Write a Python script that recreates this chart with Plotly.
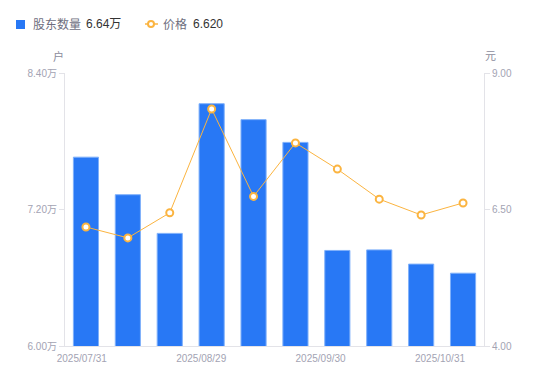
import plotly.graph_objects as go

# ---- data ----
bar_index = list(range(10))
holders_wan = [7.66, 7.33, 6.99, 8.13, 7.99, 7.79, 6.84, 6.845, 6.72, 6.64]
price = [6.18, 5.98, 6.44, 8.34, 6.74, 7.72, 7.24, 6.69, 6.40, 6.62]
x_tick_labels = ["2025/07/31", "2025/08/29", "2025/09/30", "2025/10/31"]
x_tick_pos = [-0.1, 2.75, 5.6, 8.45]
left_ticks = [6.00, 7.20, 8.40]
right_ticks = [4.00, 6.50, 9.00]

# page has an 8px body margin; layout below is in page pixels
OFF = 8
W, H = 550 - OFF, 381 - OFF
L, R, T, B = 65 - OFF, 66, 73 - OFF, 35
pw, ph = W - L - R, H - T - B

def px(x):
    return (x - OFF - L) / pw

def py(y):
    return (H - B - (y - OFF)) / ph

FONT = "Liberation Sans, Noto Sans CJK SC, sans-serif"
BLUE = "#2878F5"
ORANGE = "#FBB440"
TICK_GRAY = "#a3a3b3"
AXIS_GRAY = "#e3e3e8"

fig = go.Figure()
fig.add_trace(go.Bar(
    x=bar_index, y=holders_wan, width=0.6,
    marker=dict(color=BLUE, line=dict(color="#7fb0fa", width=1)),
    name="股东数量", yaxis="y", showlegend=False,
))
fig.add_trace(go.Scatter(
    x=bar_index, y=price, mode="lines+markers",
    line=dict(color=ORANGE, width=1),
    marker=dict(symbol="circle", size=7, color="white", line=dict(color=ORANGE, width=2)),
    name="价格", yaxis="y2", showlegend=False,
))

fig.update_layout(
    width=W, height=H,
    margin=dict(l=L, r=R, t=T, b=B),
    paper_bgcolor="white", plot_bgcolor="white",
    font=dict(family=FONT, size=10, color=TICK_GRAY),
    bargap=0.4,
    xaxis=dict(
        range=[-0.5, 9.5], tickmode="array", tickvals=x_tick_pos, ticktext=x_tick_labels,
        showgrid=False, zeroline=False, showline=True, linecolor=AXIS_GRAY, linewidth=1,
        ticks="outside", ticklen=3, tickcolor="rgba(0,0,0,0)",
        tickfont=dict(size=10, color=TICK_GRAY),
    ),
    yaxis=dict(
        range=[left_ticks[0], left_ticks[-1]], tickmode="array", tickvals=left_ticks,
        ticktext=[f"{v:.2f}万" for v in left_ticks],
        showgrid=False, zeroline=False, showline=True, linecolor=AXIS_GRAY, linewidth=1,
        ticks="outside", ticklen=5, tickcolor=AXIS_GRAY, tickfont=dict(size=10, color=TICK_GRAY),
    ),
    yaxis2=dict(
        range=[right_ticks[0], right_ticks[-1]], tickmode="array", tickvals=right_ticks,
        ticktext=[f"{v:.2f}" for v in right_ticks],
        overlaying="y", side="right",
        showgrid=False, zeroline=False, showline=True, linecolor=AXIS_GRAY, linewidth=1,
        ticks="outside", ticklen=5, tickcolor=AXIS_GRAY, tickfont=dict(size=10, color=TICK_GRAY),
    ),
)

# axis unit titles
fig.add_annotation(text="户", xref="paper", yref="paper", x=px(58), y=py(56),
                   showarrow=False, font=dict(size=11, color="#8c8c9c"), xanchor="center", yanchor="middle")
fig.add_annotation(text="元", xref="paper", yref="paper", x=px(490), y=py(56),
                   showarrow=False, font=dict(size=11, color="#8c8c9c"), xanchor="center", yanchor="middle")

# custom legend
fig.add_shape(type="rect", xref="paper", yref="paper", x0=px(16), x1=px(25), y0=py(29), y1=py(20),
              fillcolor=BLUE, line=dict(width=0))
fig.add_annotation(text="股东数量", xref="paper", yref="paper", x=px(31), y=py(24.5),
                   showarrow=False, xanchor="left", yanchor="middle", font=dict(size=12, color="#6e6e7e"))
fig.add_annotation(text=f"{holders_wan[-1]:.2f}万", xref="paper", yref="paper", x=px(84), y=py(24.5),
                   showarrow=False, xanchor="left", yanchor="middle", font=dict(size=12, color="#333333"))
fig.add_shape(type="line", xref="paper", yref="paper", x0=px(145), x1=px(158), y0=py(24), y1=py(24),
              line=dict(color=ORANGE, width=1.5))
fig.add_shape(type="circle", xref="paper", yref="paper", x0=px(148), x1=px(154), y0=py(27), y1=py(21),
              fillcolor="white", line=dict(color=ORANGE, width=2))
fig.add_annotation(text="价格", xref="paper", yref="paper", x=px(161), y=py(24.5),
                   showarrow=False, xanchor="left", yanchor="middle", font=dict(size=12, color="#6e6e7e"))
fig.add_annotation(text=f"{price[-1]:.3f}", xref="paper", yref="paper", x=px(191), y=py(24.5),
                   showarrow=False, xanchor="left", yanchor="middle", font=dict(size=12, color="#333333"))

fig.write_html("out.html")
